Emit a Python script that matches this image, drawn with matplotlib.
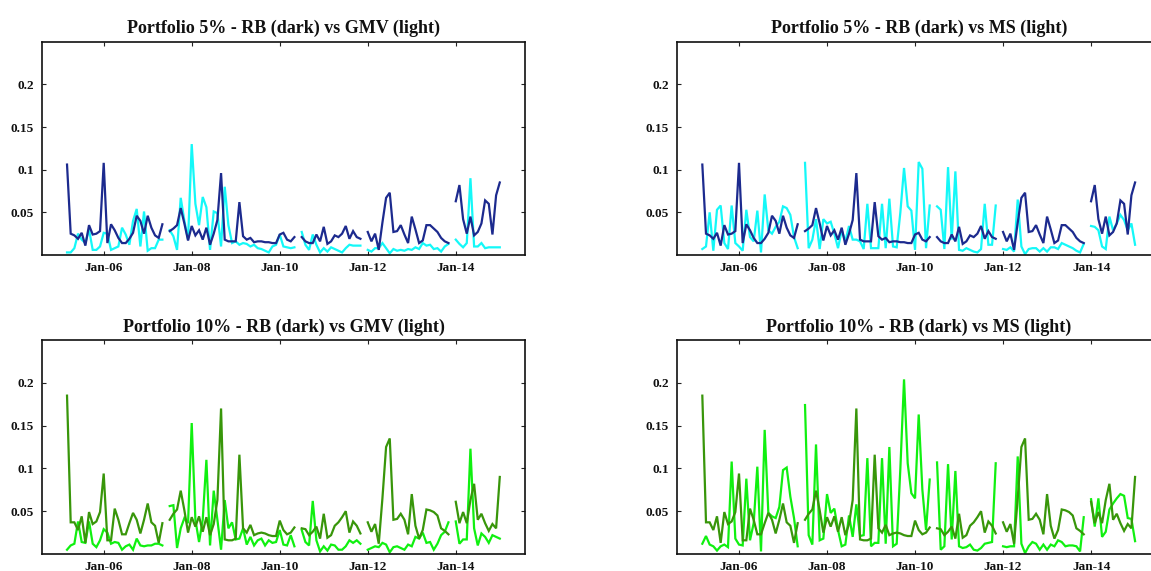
import numpy as np
import matplotlib
matplotlib.use("Agg")
import matplotlib.pyplot as plt

# Monthly observations from Mar-2005 to Jan-2015, split into five blocks
# separated by a single missing month.
first_year, first_month = 2005, 3
tick_years = [2006, 2008, 2010, 2012, 2014]
tick_labels = ["Jan-06", "Jan-08", "Jan-10", "Jan-12", "Jan-14"]
y_ticks = [0.05, 0.1, 0.15, 0.2]
y_tick_labels = ["0.05", "0.1", "0.15", "0.2"]

titles = [
    "Portfolio 5% - RB (dark) vs GMV (light)",
    "Portfolio 5% - RB (dark) vs MS (light)",
    "Portfolio 10% - RB (dark) vs GMV (light)",
    "Portfolio 10% - RB (dark) vs MS (light)",
]

rb5_blocks = [
    [0.106, 0.025, 0.023, 0.019, 0.026, 0.011, 0.035, 0.024, 0.025, 0.028, 0.108, 0.014, 0.036, 0.029,
     0.020, 0.014, 0.014, 0.019, 0.026, 0.046, 0.040, 0.025, 0.046, 0.032, 0.023, 0.020, 0.036],
    [0.028, 0.031, 0.035, 0.055, 0.037, 0.017, 0.034, 0.023, 0.029, 0.018, 0.032, 0.012, 0.025, 0.041,
     0.096, 0.018, 0.016, 0.016, 0.016, 0.062, 0.022, 0.018, 0.020, 0.015, 0.016, 0.016, 0.015, 0.015,
     0.014, 0.014, 0.024, 0.026, 0.018, 0.016, 0.021],
    [0.021, 0.016, 0.014, 0.014, 0.024, 0.016, 0.033, 0.013, 0.016, 0.023, 0.021, 0.025, 0.034, 0.019,
     0.028, 0.021, 0.019],
    [0.027, 0.016, 0.025, 0.006, 0.038, 0.067, 0.073, 0.027, 0.028, 0.035, 0.024, 0.014, 0.045, 0.030,
     0.014, 0.017, 0.035, 0.035, 0.031, 0.027, 0.020, 0.016, 0.014],
    [0.063, 0.082, 0.042, 0.025, 0.045, 0.023, 0.027, 0.037, 0.064, 0.060, 0.024, 0.070, 0.085],
]

gmv5_blocks = [
    [0.003, 0.003, 0.008, 0.025, 0.018, 0.014, 0.030, 0.006, 0.006, 0.010, 0.026, 0.025, 0.006, 0.008,
     0.010, 0.032, 0.024, 0.012, 0.040, 0.054, 0.010, 0.051, 0.005, 0.008, 0.008, 0.018, 0.018],
    [0.029, 0.022, 0.006, 0.067, 0.040, 0.018, 0.130, 0.060, 0.035, 0.068, 0.056, 0.006, 0.051, 0.049,
     0.010, 0.080, 0.035, 0.014, 0.016, 0.012, 0.014, 0.013, 0.010, 0.012, 0.008, 0.007, 0.005, 0.003,
     0.010, 0.012, 0.024, 0.010, 0.009, 0.008, 0.009],
    [0.027, 0.012, 0.006, 0.024, 0.012, 0.003, 0.008, 0.004, 0.009, 0.007, 0.005, 0.003, 0.008, 0.012,
     0.011, 0.011, 0.011],
    [0.006, 0.004, 0.008, 0.008, 0.014, 0.008, 0.002, 0.007, 0.005, 0.006, 0.005, 0.007, 0.006, 0.009,
     0.007, 0.014, 0.011, 0.012, 0.007, 0.008, 0.004, 0.010, 0.013],
    [0.018, 0.013, 0.009, 0.014, 0.090, 0.010, 0.010, 0.014, 0.008, 0.009, 0.009, 0.009, 0.009],
]

ms5_blocks = [
    [0.007, 0.010, 0.050, 0.005, 0.053, 0.058, 0.014, 0.007, 0.058, 0.014, 0.010, 0.005, 0.053, 0.021,
     0.016, 0.052, 0.003, 0.071, 0.029, 0.025, 0.033, 0.039, 0.057, 0.055, 0.047, 0.021, 0.008],
    [0.108, 0.008, 0.018, 0.042, 0.007, 0.042, 0.037, 0.039, 0.025, 0.008, 0.029, 0.016, 0.034, 0.018,
     0.018, 0.016, 0.007, 0.060, 0.008, 0.008, 0.008, 0.060, 0.008, 0.066, 0.010, 0.009, 0.050, 0.102,
     0.057, 0.052, 0.006, 0.109, 0.101, 0.008, 0.058],
    [0.057, 0.053, 0.007, 0.103, 0.018, 0.098, 0.006, 0.005, 0.008, 0.006, 0.004, 0.003, 0.007, 0.060,
     0.012, 0.012, 0.058],
    [0.007, 0.006, 0.009, 0.004, 0.065, 0.010, 0.001, 0.007, 0.008, 0.008, 0.004, 0.008, 0.004, 0.009,
     0.009, 0.007, 0.014, 0.012, 0.010, 0.008, 0.005, 0.003, 0.013],
    [0.034, 0.033, 0.029, 0.010, 0.007, 0.045, 0.029, 0.037, 0.047, 0.041, 0.029, 0.037, 0.012],
]

rb10_blocks = [
    [0.185, 0.037, 0.037, 0.028, 0.044, 0.013, 0.049, 0.035, 0.038, 0.049, 0.094, 0.016, 0.016, 0.053,
     0.040, 0.023, 0.023, 0.036, 0.048, 0.040, 0.024, 0.040, 0.059, 0.037, 0.033, 0.013, 0.036],
    [0.040, 0.047, 0.052, 0.074, 0.051, 0.025, 0.043, 0.032, 0.044, 0.026, 0.043, 0.022, 0.035, 0.063,
     0.170, 0.017, 0.016, 0.016, 0.018, 0.116, 0.030, 0.025, 0.034, 0.022, 0.024, 0.025, 0.024, 0.022,
     0.021, 0.021, 0.039, 0.028, 0.023, 0.025, 0.031],
    [0.030, 0.029, 0.022, 0.026, 0.032, 0.018, 0.047, 0.019, 0.022, 0.033, 0.037, 0.043, 0.050, 0.025,
     0.038, 0.033, 0.024],
    [0.037, 0.026, 0.035, 0.012, 0.065, 0.125, 0.135, 0.040, 0.041, 0.047, 0.040, 0.023, 0.070, 0.033,
     0.018, 0.028, 0.052, 0.051, 0.049, 0.045, 0.030, 0.027, 0.023],
    [0.061, 0.036, 0.049, 0.036, 0.063, 0.082, 0.040, 0.047, 0.036, 0.027, 0.035, 0.030, 0.090],
]

gmv10_blocks = [
    [0.005, 0.010, 0.012, 0.038, 0.014, 0.013, 0.038, 0.012, 0.008, 0.016, 0.029, 0.025, 0.012, 0.014,
     0.013, 0.005, 0.009, 0.011, 0.005, 0.018, 0.010, 0.009, 0.010, 0.010, 0.012, 0.012, 0.010],
    [0.056, 0.057, 0.007, 0.030, 0.042, 0.036, 0.153, 0.040, 0.014, 0.040, 0.110, 0.010, 0.074, 0.040,
     0.005, 0.063, 0.030, 0.037, 0.017, 0.018, 0.030, 0.011, 0.020, 0.010, 0.016, 0.018, 0.010, 0.016,
     0.013, 0.014, 0.028, 0.011, 0.010, 0.022, 0.009],
    [0.028, 0.014, 0.010, 0.062, 0.016, 0.003, 0.009, 0.004, 0.011, 0.010, 0.005, 0.005, 0.009, 0.016,
     0.013, 0.016, 0.012],
    [0.005, 0.007, 0.009, 0.008, 0.013, 0.011, 0.002, 0.008, 0.009, 0.007, 0.005, 0.011, 0.009, 0.020,
     0.018, 0.025, 0.013, 0.014, 0.005, 0.012, 0.022, 0.026, 0.037],
    [0.038, 0.012, 0.017, 0.017, 0.123, 0.030, 0.010, 0.024, 0.020, 0.013, 0.022, 0.020, 0.018],
]

ms10_blocks = [
    [0.012, 0.021, 0.011, 0.009, 0.004, 0.009, 0.011, 0.008, 0.108, 0.018, 0.011, 0.010, 0.088, 0.016,
     0.036, 0.102, 0.003, 0.145, 0.048, 0.044, 0.042, 0.055, 0.098, 0.101, 0.067, 0.042, 0.009],
    [0.174, 0.022, 0.011, 0.128, 0.016, 0.018, 0.070, 0.048, 0.053, 0.028, 0.009, 0.011, 0.045, 0.020,
     0.058, 0.021, 0.022, 0.112, 0.009, 0.013, 0.013, 0.112, 0.012, 0.125, 0.009, 0.012, 0.100, 0.204,
     0.106, 0.071, 0.065, 0.163, 0.075, 0.028, 0.087],
    [0.107, 0.005, 0.009, 0.105, 0.017, 0.097, 0.009, 0.007, 0.008, 0.011, 0.005, 0.004, 0.007, 0.012,
     0.013, 0.014, 0.106],
    [0.009, 0.008, 0.009, 0.009, 0.114, 0.012, 0.001, 0.009, 0.014, 0.012, 0.005, 0.011, 0.005, 0.011,
     0.009, 0.016, 0.014, 0.009, 0.010, 0.010, 0.009, 0.003, 0.043],
    [0.064, 0.032, 0.065, 0.020, 0.026, 0.052, 0.059, 0.065, 0.070, 0.068, 0.042, 0.041, 0.015],
]


def join_blocks(blocks):
    """Concatenate blocks, inserting one missing month between them."""
    out = []
    for i, b in enumerate(blocks):
        if i:
            out.append(np.nan)
        out.extend(b)
    return np.array(out, dtype=float)


series = {
    "rb5": join_blocks(rb5_blocks),
    "gmv5": join_blocks(gmv5_blocks),
    "ms5": join_blocks(ms5_blocks),
    "rb10": join_blocks(rb10_blocks),
    "gmv10": join_blocks(gmv10_blocks),
    "ms10": join_blocks(ms10_blocks),
}
n = len(series["rb5"])
t = first_year + (first_month - 1) / 12 + np.arange(n) / 12.0

navy = "#1c2a8e"
cyan = "#14f8f8"
dkgreen = "#38960a"
ltgreen = "#10f010"

panels = [
    ("rb5", "gmv5", navy, cyan),
    ("rb5", "ms5", navy, cyan),
    ("rb10", "gmv10", dkgreen, ltgreen),
    ("rb10", "ms10", dkgreen, ltgreen),
]

W, H = 1151, 571
fig = plt.figure(figsize=(W / 100, H / 100), dpi=100)

ax_w = 483.3 / W
lefts = [42 / W, 677.3 / W]
rows = [(41.7, 255.0), (340.0, 554.0)]

tick_font = dict(family="Liberation Serif", weight="bold", size=9.5)

for k, (dark, light, cdark, clight) in enumerate(panels):
    r, c = divmod(k, 2)
    top, bot = rows[r]
    ax = fig.add_axes([lefts[c], 1 - bot / H, ax_w, (bot - top) / H])
    ax.plot(t, series[light], color=clight, lw=1.6, solid_joinstyle="miter")
    ax.plot(t, series[dark], color=cdark, lw=1.6, solid_joinstyle="miter")
    ax.set_xlim(2004.598, 2015.58)
    ax.set_ylim(0, 0.25)
    ax.set_xticks(tick_years)
    ax.set_xticklabels(tick_labels, fontdict=tick_font)
    ax.set_yticks(y_ticks)
    ax.set_yticklabels(y_tick_labels, fontdict=tick_font)
    ax.tick_params(axis="x", pad=5)
    ax.tick_params(axis="y", pad=6)
    ax.tick_params(direction="in", top=True, right=True, length=3, width=0.8,
                   colors="#222222", labelcolor="#111111")
    for sp in ax.spines.values():
        sp.set_linewidth(1.2)
        sp.set_color("#111111")
    ax.set_title(titles[k], fontfamily="Liberation Serif", fontweight="bold",
                 fontsize=13, pad=6, color="#111111")

fig.savefig("out.png", dpi=100)
